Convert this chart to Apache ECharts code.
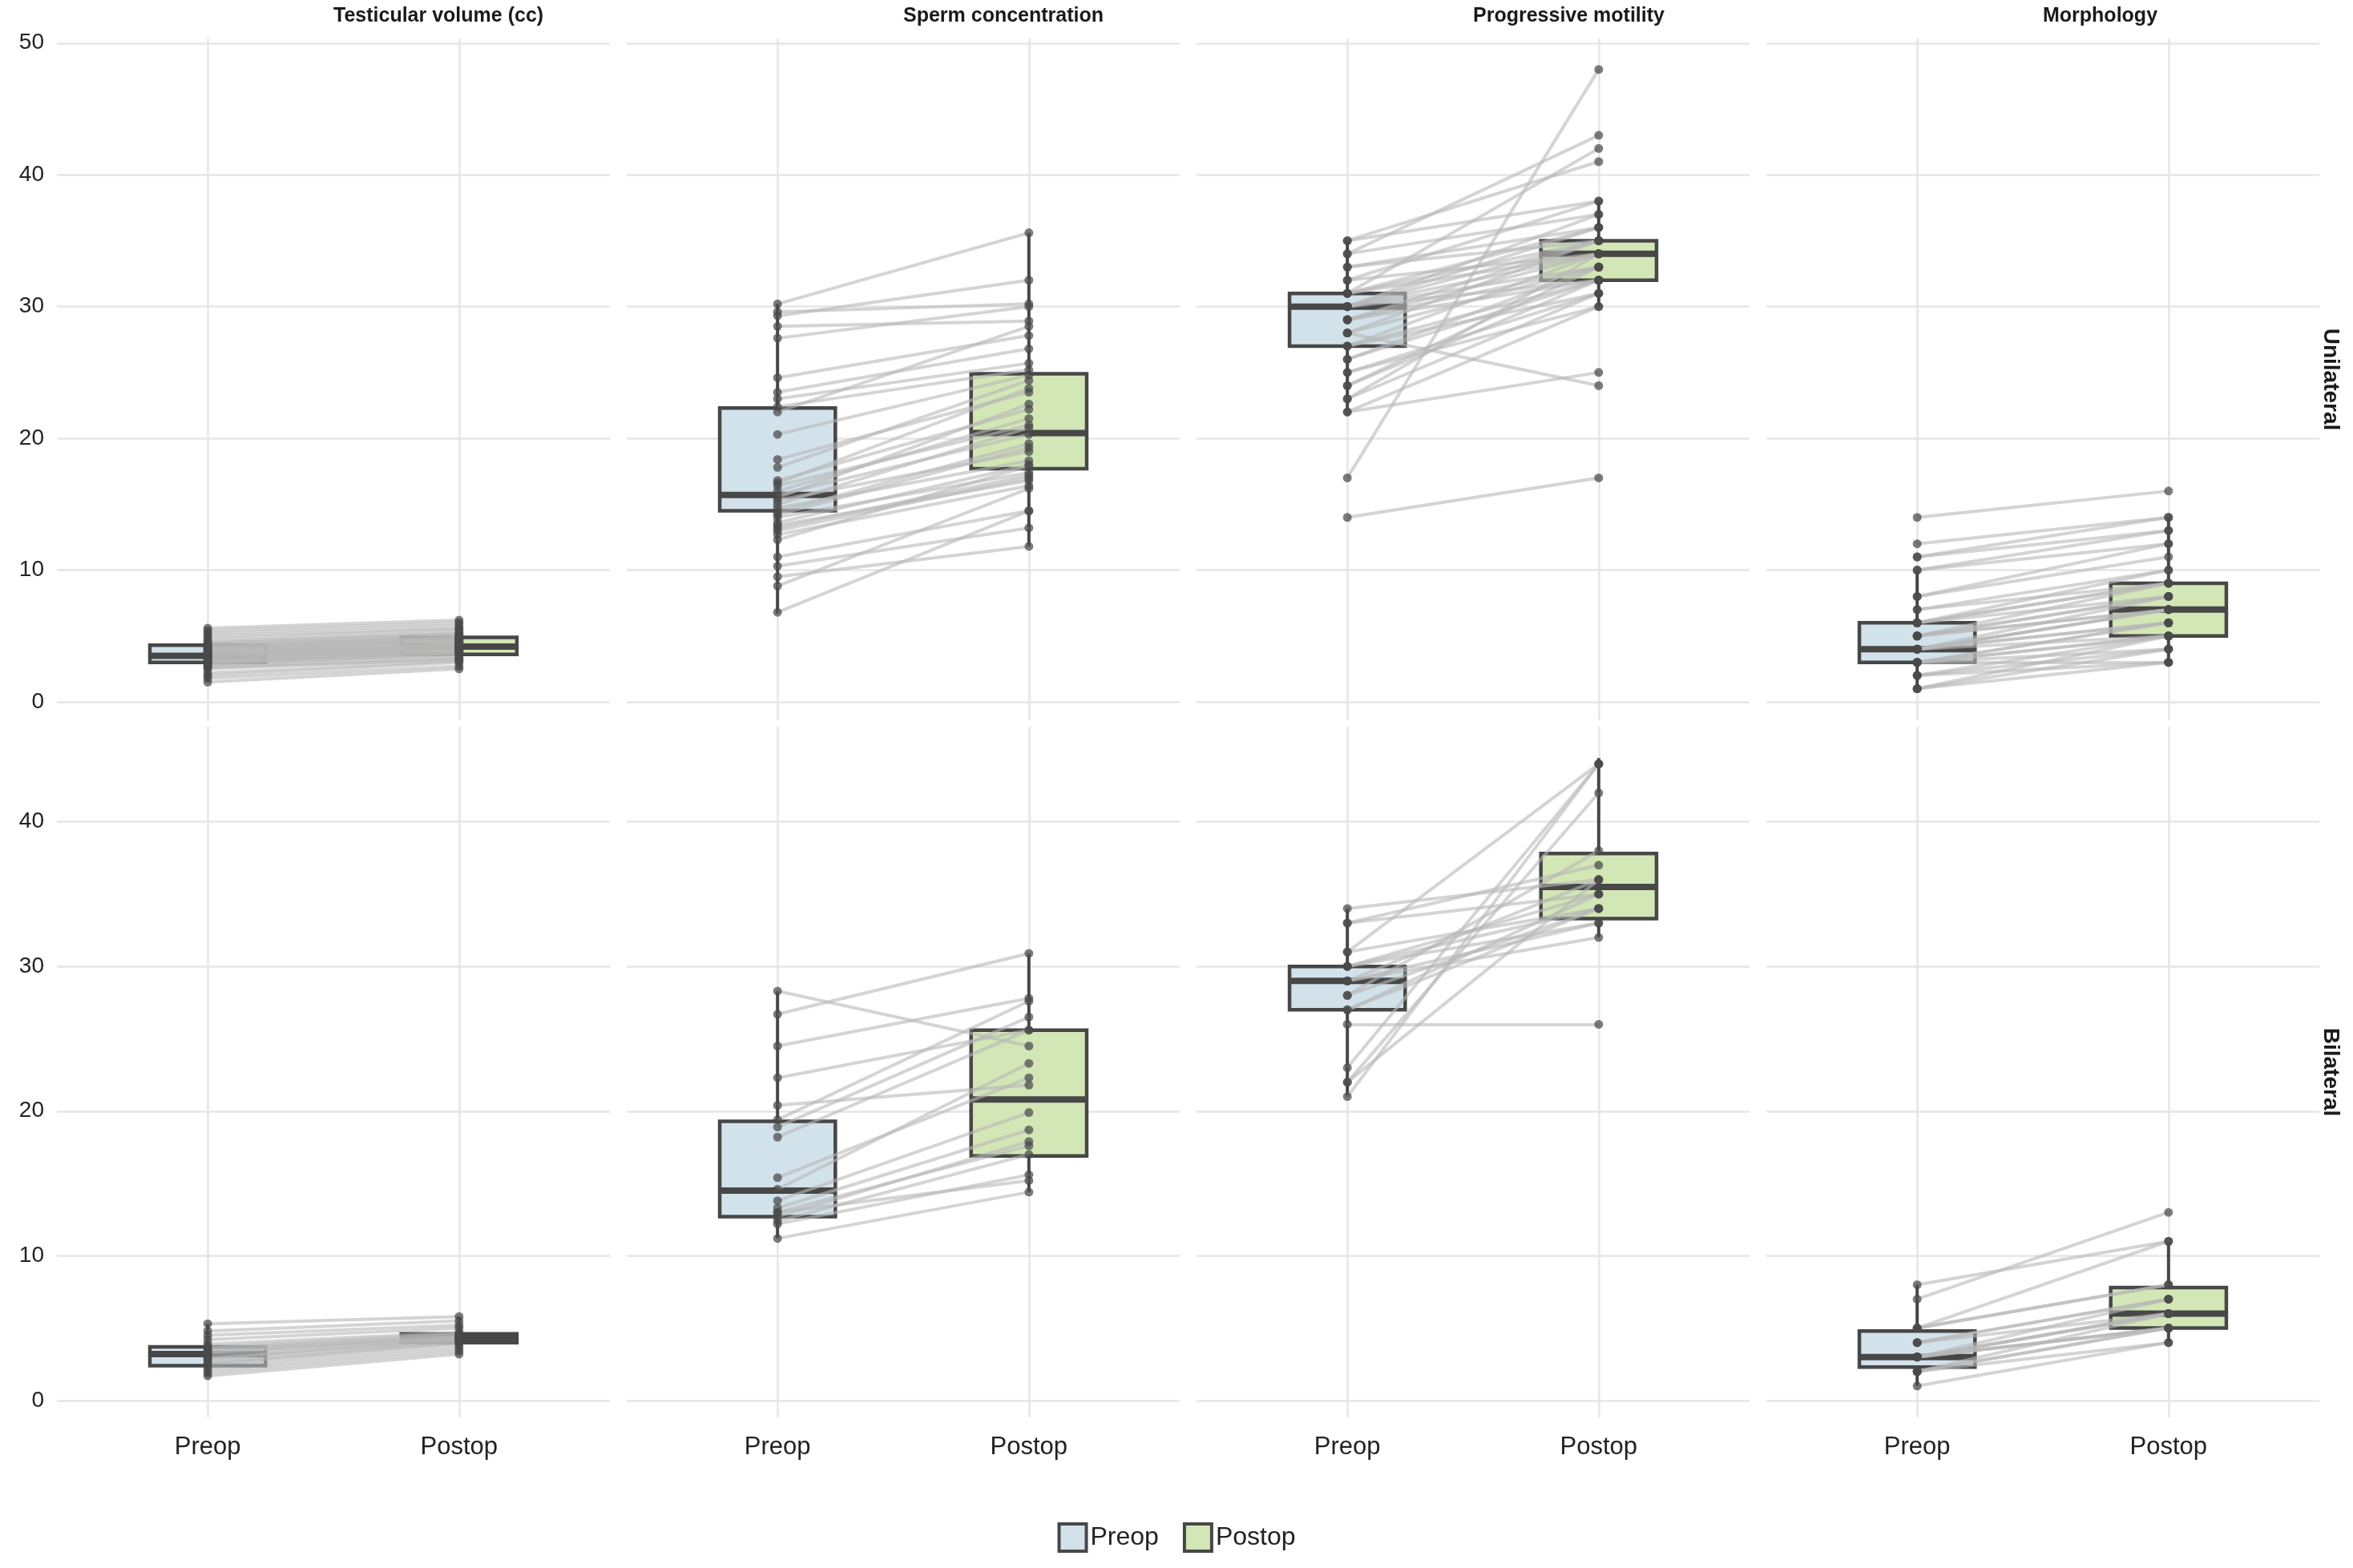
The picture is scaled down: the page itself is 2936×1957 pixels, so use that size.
<!DOCTYPE html>
<html>
<head>
<meta charset="utf-8">
<script src="https://cdn.jsdelivr.net/npm/echarts@6/dist/echarts.min.js"></script>
<style>
  html, body { margin: 0; padding: 0; background: #fff; }
  #chart { width: 2936px; height: 1957px; }
</style>
</head>
<body>
<div id="chart"></div>
<script>
// 面板标题 / 分组
const measures = ['Testicular volume (cc)', 'Sperm concentration', 'Progressive motility', 'Morphology'];
const groups = ['Unilateral', 'Bilateral'];
const timepoints = ['Preop', 'Postop'];

// Unilateral 配对数据
const uTestPre  = [1.5,1.8,2.0,2.2,2.5,2.7,2.8,3.0,3.0,3.1,3.2,3.3,3.4,3.5,3.5,3.5,3.6,3.7,3.8,3.9,4.0,4.0,4.1,4.2,4.3,4.4,4.5,4.6,4.8,5.0,5.2,5.4,5.6,2.9,3.3,3.6,3.0,4.2,2.6,3.8];
const uTestPost = [2.5,2.7,3.0,3.1,3.3,3.4,3.6,3.7,3.8,3.9,4.0,4.0,4.1,4.2,4.2,4.3,4.3,4.4,4.5,4.6,4.7,4.7,4.8,4.9,5.0,5.1,5.2,5.3,5.5,5.6,5.8,6.0,6.2,3.6,4.0,4.3,3.8,4.9,3.2,4.5];
const uSpermPre  = [30.2,29.6,29.3,28.5,27.6,24.6,23.5,23.0,22.4,22.0,20.3,18.4,17.8,16.8,16.6,16.4,15.7,15.5,15.3,15.0,14.7,14.4,14.0,13.6,13.4,13.2,12.7,12.3,11.0,10.3,9.5,8.8,6.8,16.0,14.2,13.0];
const uSpermPost = [35.6,30.2,32.0,28.9,30.0,27.8,26.8,25.7,25.2,28.5,24.8,23.5,24.4,22.2,23.8,21.0,20.3,22.6,19.0,20.8,18.3,19.6,17.4,18.0,16.8,17.2,16.4,17.9,14.5,13.2,11.8,16.2,14.5,21.5,19.3,17.0];
const uMotPre  = [35,35,34,34,33,33,32,32,31,31,31,30,30,30,30,30,29,29,29,28,28,28,27,27,27,26,26,25,25,24,24,23,23,22,22,17,14,30,29,31];
const uMotPost = [38,41,37,43,36,35,38,34,42,35,34,35,34,33,36,32,34,33,32,24,35,33,32,34,31,33,32,31,30,33,32,31,34,25,30,48,17,37,35,36];
const uMorphPre  = [14,12,11,11,10,10,8,8,7,7,6,6,6,5,5,5,5,4,4,4,4,4,4,3,3,3,3,3,2,2,2,1,1,1,6,4,3,5];
const uMorphPost = [16,14,13,14,12,13,11,12,10,9,9,10,8,9,8,7,7,7,6,8,5,6,7,5,4,6,3,5,4,3,5,3,4,5,9,7,6,8];

// Bilateral 配对数据
const bTestPre  = [5.3,4.8,4.5,4.2,3.9,3.7,3.6,3.5,3.3,3.2,3.0,2.8,2.6,2.5,2.3,2.1,1.9,1.7,3.4,2.9];
const bTestPost = [5.8,5.5,5.2,5.0,4.7,4.6,4.5,4.4,4.3,4.3,4.2,4.1,4.0,4.0,3.8,3.6,3.4,3.2,4.4,4.2];
const bSpermPre  = [28.3,26.7,24.5,22.3,20.4,19.4,18.9,18.2,15.4,14.6,13.8,13.3,13.0,12.4,12.2,11.2,13.0,12.7];
const bSpermPost = [24.5,30.9,27.8,25.6,21.8,27.6,26.5,25.6,22.3,23.3,19.9,18.7,15.2,17.0,15.6,14.4,17.6,17.9];
const bMotPre  = [34,33,33,31,31,30,30,30,29,29,29,28,28,27,27,26,23,22,22,21];
const bMotPost = [36,35,37,44,34,33,35,34,36,33,32,38,34,35,34,26,44,42,36,44];
const bMorphPre  = [8,7,5,5,4,4,4,3,3,3,3,3,3,2,2,2,2,1,3,5];
const bMorphPost = [11,13,11,8,7,7,6,6,6,6,5,5,5,6,5,4,5,4,7,8];

// 箱线图五数 [下须, Q1, 中位, Q3, 上须]（图上读取）
const uBoxPre  = [[1.5,3.0,3.5,4.3,5.6], [6.7,14.5,15.7,22.3,30.2], [22,27,30,31,35], [1,3,4,6,10]];
const uBoxPost = [[2.5,3.6,4.2,4.9,6.2], [11.8,17.7,20.4,24.9,35.6], [30,32,34,35,38], [3,5,7,9,14]];
const bBoxPre  = [[1.7,2.4,3.2,3.7,5.3], [11.2,12.7,14.5,19.3,28.3], [21,27,29,30,34], [1,2.3,3,4.8,8]];
const bBoxPost = [[3.2,4.0,4.3,4.6,5.8], [14.4,16.9,20.8,25.6,30.9], [32,33.3,35.5,37.8,44.4], [4,5,6,7.8,11]];

const yTicksU = [0, 10, 20, 30, 40, 50];
const yTicksB = [0, 10, 20, 30, 40];

const pairs = [
  [[uTestPre, uTestPost], [uSpermPre, uSpermPost], [uMotPre, uMotPost], [uMorphPre, uMorphPost]],
  [[bTestPre, bTestPost], [bSpermPre, bSpermPost], [bMotPre, bMotPost], [bMorphPre, bMorphPost]],
];
const boxes = [[uBoxPre, uBoxPost], [bBoxPre, bBoxPost]];

const FONT = '"Liberation Sans", Arial, sans-serif';
const FILL = { Preop: '#d2e2eb', Postop: '#d3e6b6' };
const EDGE = '#474747';
const BOX_W = 0.46;

const colLeft = [71, 782, 1493, 2204];
const colW = 690;
const rowTop = [48, 907];
const rowH = [851, 862];
const yRange = [[-1.4, 50.35], [-1.17, 46.57]];

const grid = [], xAxis = [], yAxis = [], series = [], graphic = [];

function boxRender(params, api) {
  const x = api.value(0);
  const lo = api.coord([x - BOX_W / 2, api.value(4)]);
  const hi = api.coord([x + BOX_W / 2, api.value(2)]);
  const wTop = api.coord([x, api.value(5)]);
  const wBot = api.coord([x, api.value(1)]);
  const medL = api.coord([x - BOX_W / 2, api.value(3)]);
  const medR = api.coord([x + BOX_W / 2, api.value(3)]);
  const fill = api.visual('color');
  return {
    type: 'group',
    children: [
      { type: 'line', shape: { x1: wTop[0], y1: wTop[1], x2: wTop[0], y2: lo[1] },
        style: { stroke: EDGE, lineWidth: 4 } },
      { type: 'line', shape: { x1: wBot[0], y1: hi[1], x2: wBot[0], y2: wBot[1] },
        style: { stroke: EDGE, lineWidth: 4 } },
      { type: 'rect', shape: { x: lo[0], y: lo[1], width: hi[0] - lo[0], height: hi[1] - lo[1] },
        style: { fill: fill, stroke: EDGE, lineWidth: 4.5 } },
      { type: 'line', shape: { x1: medL[0], y1: medL[1], x2: medR[0], y2: medR[1] },
        style: { stroke: EDGE, lineWidth: 8 } },
    ],
  };
}

let gi = 0;
for (let r = 0; r < 2; r++) {
  for (let c = 0; c < 4; c++) {
    grid.push({ left: colLeft[c], top: rowTop[r], width: colW, height: rowH[r] });
    xAxis.push({
      type: 'value', gridIndex: gi, min: 0.4, max: 2.6,
      axisLine: { show: false },
      axisTick: { show: false, customValues: [1, 2] },
      axisLabel: { show: r === 1, customValues: [1, 2], formatter: v => timepoints[Math.round(v) - 1],
        fontFamily: FONT, fontSize: 31, color: '#222', margin: 22 },
      splitLine: { show: true, lineStyle: { color: '#e6e6e6', width: 2.5 } },
    });
    const ticks = r === 0 ? yTicksU : yTicksB;
    yAxis.push({
      type: 'value', gridIndex: gi, min: yRange[r][0], max: yRange[r][1],
      axisLine: { show: false },
      axisTick: { show: false, customValues: ticks },
      axisLabel: { show: c === 0, customValues: ticks, fontFamily: FONT, fontSize: 28, color: '#222', margin: 16 },
      splitLine: { show: true, lineStyle: { color: '#e6e6e6', width: 2.5 } },
    });

    // 箱体
    timepoints.forEach((tp, k) => {
      const b = boxes[r][k][c];
      series.push({
        type: 'custom', name: tp, xAxisIndex: gi, yAxisIndex: gi,
        itemStyle: { color: FILL[tp] },
        renderItem: boxRender, encode: { x: 0, y: [1, 2, 3, 4, 5] },
        data: [[k + 1].concat(b)], z: 1, silent: true,
      });
    });

    // 配对连线
    const [pre, post] = pairs[r][c];
    series.push({
      type: 'lines', coordinateSystem: 'cartesian2d', xAxisIndex: gi, yAxisIndex: gi,
      data: pre.map((v, i) => ({ coords: [[1, v], [2, post[i]]] })),
      lineStyle: { color: '#b8b8b8', width: 4, opacity: 0.6 }, z: 2, silent: true,
    });
    // 点
    series.push({
      type: 'scatter', xAxisIndex: gi, yAxisIndex: gi, symbolSize: 11,
      data: pre.map(v => [1, v]).concat(post.map(v => [2, v])),
      itemStyle: { color: '#4a4a4a', opacity: 0.72 }, z: 3, silent: true,
    });
    gi++;
  }
}

// 顶部分面标题
measures.forEach((m, c) => {
  graphic.push({ type: 'text', left: colLeft[c] + colW / 2, top: 8,
    style: { text: m, font: `bold 25px ${FONT}`, fill: '#1a1a1a', textAlign: 'center' } });
});
// 右侧分面标题
groups.forEach((g, r) => {
  graphic.push({ type: 'text', x: 2908, y: rowTop[r] + rowH[r] / 2, rotation: -Math.PI / 2,
    style: { text: g, font: `bold 28px ${FONT}`, fill: '#1a1a1a', align: 'center', verticalAlign: 'middle' } });
});

const chart = echarts.init(document.getElementById('chart'));
chart.setOption({
  backgroundColor: '#fff',
  animation: false,
  grid, xAxis, yAxis, series, graphic,
  legend: {
    data: timepoints, bottom: 14, left: 'center', itemWidth: 34, itemHeight: 34, itemGap: 30,
    icon: 'rect',
    itemStyle: { borderColor: EDGE, borderWidth: 4 },
    textStyle: { fontFamily: FONT, fontSize: 32, color: '#222' },
  },
});
</script>
</body>
</html>
